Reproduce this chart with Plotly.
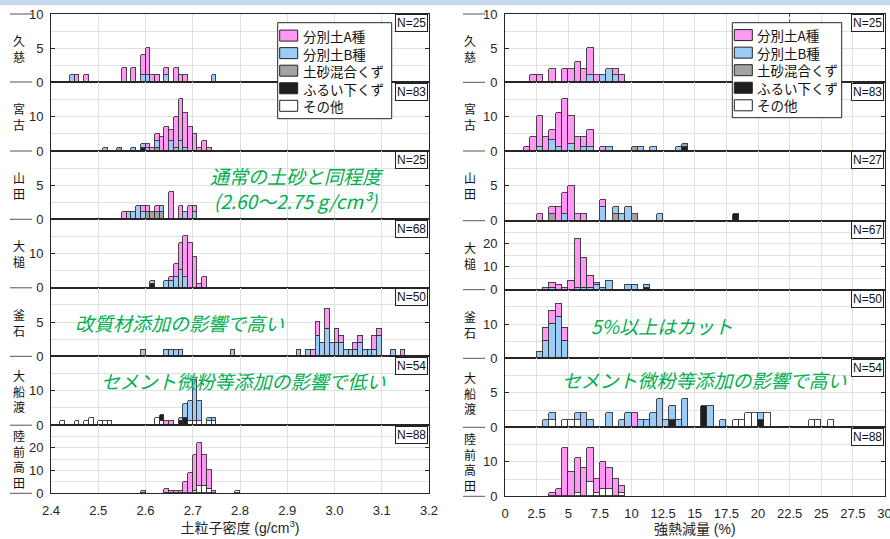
import plotly.graph_objects as go

W, H = 890, 539
FONT = "Liberation Sans, Arial, Noto Sans CJK JP, sans-serif"
JFONT = "Noto Sans CJK JP, sans-serif"
INK = "#262626"
GRID = "#e1e1e1"

# stacking order bottom -> top
KEYS = ["OT", "FS", "DK", "B", "A"]
NAMES = {"OT": "その他", "FS": "ふるい下くず", "DK": "土砂混合くず",
         "B": "分別土B種", "A": "分別土A種"}
COLORS = {"OT": "#ffffff", "FS": "#1e1e1e", "DK": "#a3a3a3",
          "B": "#9ccbf7", "A": "#ff99f5"}
LEGEND_ORDER = ["A", "B", "DK", "FS", "OT"]

SITES = ["久慈", "宮古", "山田", "大槌", "釜石", "大船渡", "陸前高田"]

# ---------------- 土粒子密度 (bin left edge, count), bin width 0.01 ----------------
DENSITY_BIN = 0.01
density_kuji = {
    "A": [(2.45, 1), (2.47, 1), (2.55, 2), (2.57, 2), (2.59, 3), (2.60, 4), (2.61, 1),
          (2.62, 1), (2.64, 1), (2.66, 2), (2.67, 1), (2.68, 1)],
    "B": [(2.44, 1), (2.59, 1), (2.60, 1), (2.64, 1), (2.74, 1)],
}
density_miyako = {
    "FS": [(2.59, 1)],
    "DK": [(2.54, 1), (2.62, 1)],
    "B": [(2.51, 1), (2.57, 1), (2.59, 1), (2.60, 1), (2.62, 2), (2.65, 3), (2.66, 1),
          (2.67, 3), (2.68, 1)],
    "A": [(2.60, 1), (2.61, 1), (2.62, 2), (2.63, 4), (2.64, 7), (2.65, 3), (2.66, 9),
          (2.67, 12), (2.68, 10), (2.69, 7), (2.70, 5), (2.71, 1), (2.72, 3), (2.73, 1)],
}
density_yamada = {
    "DK": [(2.60, 1), (2.61, 1), (2.62, 1), (2.63, 1)],
    "B": [(2.56, 1), (2.57, 1), (2.58, 2), (2.59, 1), (2.63, 1), (2.68, 1), (2.70, 1)],
    "A": [(2.55, 1), (2.59, 1), (2.60, 1), (2.62, 1), (2.65, 4), (2.67, 2), (2.69, 2),
          (2.70, 1)],
}
density_otsuchi = {
    "FS": [(2.61, 1)],
    "B": [(2.61, 1), (2.64, 2), (2.65, 2), (2.66, 3), (2.67, 5), (2.68, 3)],
    "A": [(2.65, 1), (2.66, 4), (2.67, 8), (2.68, 12), (2.69, 13), (2.70, 9), (2.71, 1),
          (2.72, 3)],
}
density_kamaishi = {
    "B": [(2.59, 1), (2.64, 1), (2.65, 1), (2.66, 1), (2.67, 1), (2.78, 1), (2.92, 1),
          (2.94, 1), (2.96, 3), (2.97, 2), (2.98, 4), (2.99, 2), (3.00, 2), (3.01, 2),
          (3.02, 1), (3.03, 1), (3.04, 1), (3.05, 2), (3.06, 1), (3.07, 1), (3.08, 1),
          (3.09, 3), (3.12, 1)],
    "A": [(2.95, 1), (2.96, 2), (2.98, 3), (3.00, 2), (3.01, 1), (3.04, 1), (3.05, 1),
          (3.08, 2), (3.09, 1), (3.14, 1)],
}
density_ofunato = {
    "OT": [(2.42, 1), (2.45, 1), (2.47, 1), (2.48, 2), (2.50, 1), (2.51, 1), (2.52, 1),
           (2.62, 2), (2.63, 1), (2.69, 1), (2.70, 1), (2.71, 1), (2.73, 1), (2.74, 1)],
    "FS": [(2.63, 2), (2.67, 1), (2.68, 2)],
    "B": [(2.67, 1), (2.68, 4), (2.69, 6), (2.70, 12), (2.71, 6), (2.73, 1), (2.74, 1)],
    "A": [(2.64, 1), (2.65, 1)],
}
density_rikuzen = {
    "OT": [(2.70, 1), (2.71, 3), (2.72, 3), (2.73, 2), (2.79, 1)],
    "A": [(2.59, 1), (2.64, 2), (2.65, 1), (2.66, 1), (2.67, 1), (2.68, 5), (2.69, 9),
          (2.70, 16), (2.71, 19), (2.72, 14), (2.73, 8), (2.74, 1)],
}
density_data = [density_kuji, density_miyako, density_yamada, density_otsuchi,
                density_kamaishi, density_ofunato, density_rikuzen]
density_n = [25, 83, 25, 68, 50, 54, 88]
density_ymax = [10, 20, 10, 20, 10, 20, 30]
density_yticks = [[0, 5, 10], [0, 10], [0, 5], [0, 10], [0, 5], [0, 10], [0, 10, 20]]
density_xticks = [2.4, 2.5, 2.6, 2.7, 2.8, 2.9, 3.0, 3.1, 3.2]
density_xlabels = ["2.4", "2.5", "2.6", "2.7", "2.8", "2.9", "3.0", "3.1", "3.2"]

# ---------------- 強熱減量 (bin left edge, count), bin width 0.5 ----------------
LOI_BIN = 0.5
loi_kuji = {
    "A": [(2.0, 1), (2.5, 1), (3.5, 2), (4.5, 2), (5.0, 2), (5.5, 3), (6.0, 2), (6.5, 4),
          (7.0, 1), (8.5, 1), (9.0, 1)],
    "B": [(6.5, 1), (7.5, 1), (8.0, 2), (8.5, 1)],
}
loi_miyako = {
    "FS": [(14.0, 1)],
    "DK": [(10.0, 1), (14.0, 1)],
    "B": [(2.5, 1), (3.5, 3), (4.0, 1), (5.0, 2), (6.0, 1), (6.5, 1), (8.0, 1), (10.5, 1),
          (11.5, 1), (13.5, 1)],
    "A": [(1.5, 1), (2.0, 4), (2.5, 9), (3.0, 4), (3.5, 3), (4.0, 10), (4.5, 15), (5.0, 8),
          (5.5, 4), (6.0, 3), (6.5, 5), (7.5, 1)],
}
loi_yamada = {
    "FS": [(18.0, 1)],
    "DK": [(3.5, 1), (8.5, 1), (10.0, 1)],
    "B": [(4.5, 1), (7.5, 2), (8.5, 1), (9.0, 1), (9.5, 2), (12.0, 1)],
    "A": [(2.5, 1), (3.5, 1), (4.0, 2), (4.5, 3), (5.0, 5), (5.5, 1), (6.0, 1), (7.5, 1)],
}
loi_otsuchi = {
    "FS": [(11.0, 1)],
    "B": [(3.5, 1), (5.5, 1), (6.0, 1), (6.5, 1), (7.0, 2), (7.5, 1), (8.0, 4), (9.5, 2),
          (10.0, 2), (11.0, 1)],
    "A": [(3.0, 1), (3.5, 2), (4.0, 2), (4.5, 1), (5.0, 4), (5.5, 21), (6.0, 13), (6.5, 5),
          (7.0, 1)],
}
loi_kamaishi = {
    "B": [(2.5, 2), (3.0, 5), (3.5, 10), (4.0, 12), (4.5, 5)],
    "A": [(3.0, 4), (3.5, 4), (4.0, 4), (4.5, 4)],
}
loi_ofunato = {
    "OT": [(3.5, 1), (4.5, 1), (5.0, 1), (5.5, 1), (18.0, 1), (18.5, 1), (19.0, 2),
           (19.5, 2), (20.5, 2), (24.0, 1), (24.5, 1), (25.5, 1)],
    "FS": [(13.0, 1), (15.5, 3), (20.0, 1)],
    "B": [(3.0, 1), (3.5, 1), (5.5, 1), (6.0, 2), (6.5, 1), (8.0, 2), (9.0, 1), (9.5, 2),
          (10.5, 1), (11.0, 1), (11.5, 2), (12.0, 4), (12.5, 1), (13.0, 2), (13.5, 1),
          (14.0, 4), (16.0, 3), (17.0, 1), (20.0, 1)],
    "A": [(10.0, 2)],
}
loi_rikuzen = {
    "OT": [(5.5, 1), (6.5, 4), (7.0, 1), (7.5, 2), (8.0, 2), (9.0, 1)],
    "A": [(3.5, 1), (4.0, 2), (4.5, 14), (5.0, 7), (5.5, 10), (6.0, 8), (6.5, 10),
          (7.0, 4), (7.5, 8), (8.0, 6), (8.5, 5), (9.0, 2)],
}
loi_data = [loi_kuji, loi_miyako, loi_yamada, loi_otsuchi, loi_kamaishi, loi_ofunato,
            loi_rikuzen]
loi_n = [25, 83, 27, 67, 50, 54, 88]
loi_ymax = [10, 20, 10, 30, 20, 10, 20]
loi_yticks = [[0, 5, 10], [0, 10], [0, 5], [0, 10, 20], [0, 10], [0, 5], [0, 10]]
loi_xticks = [0, 2.5, 5, 7.5, 10, 12.5, 15, 17.5, 20, 22.5, 25, 27.5, 30]
loi_xlabels = ["0", "2.5", "5", "7.5", "10", "12.5", "15", "17.5", "20", "22.5", "25",
               "27.5", "30"]

# ---------------- layout geometry (pixels) ----------------
COLS = [
    dict(data=density_data, n=density_n, ymax=density_ymax, yticks=density_yticks,
         bin=DENSITY_BIN, xr=[2.4, 3.2], xt=density_xticks, xl=density_xlabels,
         x0=51, x1=429, bounds=[14, 82, 151, 219.3, 287.8, 356.3, 425.2, 493.3],
         title="土粒子密度 (g/cm<sup>3</sup>)", labx=19,
         leg=dict(x0=277.7, x1=391.7, y0=22.7, y1=118.7)),
    dict(data=loi_data, n=loi_n, ymax=loi_ymax, yticks=loi_yticks,
         bin=LOI_BIN, xr=[0, 30], xt=loi_xticks, xl=loi_xlabels,
         x0=505, x1=884.5, bounds=[14, 82.3, 151, 220.7, 289.7, 358.3, 427.3, 496.3],
         title="強熱減量 (%)", labx=470,
         leg=dict(x0=732.3, x1=841.7, y0=22.7, y1=117.7)),
]

fig = go.Figure()
layout = dict(width=W, height=H, margin=dict(l=0, r=0, t=0, b=0, autoexpand=False),
              paper_bgcolor="white", plot_bgcolor="white", barmode="stack", bargap=0,
              font=dict(family=FONT, size=13, color=INK), showlegend=False)
annotations = []
shapes = []


def px(x):
    return x / W


def py(y):
    return 1 - y / H


LEG_FS = 13.5
LEG_PITCH = LEG_FS * 1.3  # plotly line spacing for multi-line text

for c, col in enumerate(COLS):
    for r in range(7):
        idx = c * 7 + r + 1
        xs = "" if idx == 1 else str(idx)
        top, bot = col["bounds"][r], col["bounds"][r + 1]
        site = col["data"][r]
        for k in KEYS:
            pts = site.get(k, [])
            if not pts:
                continue
            fig.add_trace(go.Bar(
                x=[p[0] + col["bin"] / 2 for p in pts], y=[p[1] for p in pts],
                width=col["bin"], name=NAMES[k],
                marker=dict(color=COLORS[k], line=dict(color="#333333", width=0.9)),
                xaxis="x" + xs, yaxis="y" + xs,
                hovertemplate=SITES[r] + " " + NAMES[k] + ": %{y}<extra></extra>"))
        ymax = col["ymax"][r]
        step = col["yticks"][r][1] - col["yticks"][r][0]
        xa = dict(
            domain=[px(col["x0"]), px(col["x1"])], anchor="y" + xs, range=col["xr"],
            tickmode="array", tickvals=col["xt"], ticktext=col["xl"],
            showticklabels=(r == 6), ticks="", showgrid=True, gridcolor=GRID, gridwidth=1,
            zeroline=False, showline=True, mirror=True, linecolor=INK, linewidth=1,
            tickfont=dict(size=13, color=INK), ticklabelstandoff=5, automargin=False,
            ticklabeloverflow="allow", fixedrange=True)
        if r == 6:
            xa["title"] = dict(text=col["title"], font=dict(size=14, family=FONT, color=INK),
                               standoff=4)
        layout["xaxis" + xs] = xa
        layout["yaxis" + xs] = dict(
            domain=[py(bot), py(top)], anchor="x" + xs, range=[0, ymax],
            tickmode="array", tickvals=col["yticks"][r],
            ticks="inside", ticklen=4, tickcolor=INK, showgrid=True, gridcolor=GRID,
            minor=dict(dtick=step / 2, tick0=0, showgrid=True, gridcolor=GRID, ticks=""),
            zeroline=False, showline=True, mirror="ticks", linecolor=INK, linewidth=1,
            tickfont=dict(size=13, color=INK), ticklabelstandoff=4, automargin=False,
            fixedrange=True)
        # N label box
        annotations.append(dict(
            xref="paper", yref="paper", x=px(col["x1"] - 1), y=py(top + 0.5),
            xanchor="right", yanchor="top", text="N=%d" % col["n"][r], showarrow=False,
            font=dict(size=12, color="#111111", family=FONT), bgcolor="white",
            bordercolor="#222222", borderwidth=1, borderpad=1))
        # stacked site label (one character per line)
        annotations.append(dict(
            xref="paper", yref="paper", x=px(col["labx"]), y=py((top + bot) / 2),
            xanchor="center", yanchor="middle", text="<br>".join(SITES[r]),
            showarrow=False, font=dict(size=12, color="#111111", family=JFONT)))
    # little outer marks at row boundaries
    for yb in col["bounds"]:
        x_a = 10 if c == 0 else 463
        shapes.append(dict(type="line", xref="paper", yref="paper",
                           x0=px(x_a), x1=px(x_a + 22), y0=py(yb), y1=py(yb),
                           line=dict(color="#555555", width=1)))
    # legend box (drawn): frame, swatches, one multi-line text block
    lg = col["leg"]
    shapes.append(dict(type="rect", xref="paper", yref="paper",
                       x0=px(lg["x0"]), x1=px(lg["x1"]), y0=py(lg["y1"]), y1=py(lg["y0"]),
                       fillcolor="white", line=dict(color=INK, width=1)))
    mid = (lg["y0"] + lg["y1"]) / 2
    for i, k in enumerate(LEGEND_ORDER):
        cy = mid + (i - 2) * LEG_PITCH
        shapes.append(dict(type="rect", xref="paper", yref="paper",
                           x0=px(lg["x0"] + 2), x1=px(lg["x0"] + 20),
                           y0=py(cy + 5.5), y1=py(cy - 5.5),
                           fillcolor=COLORS[k], line=dict(color="#222222", width=1)))
    annotations.append(dict(xref="paper", yref="paper", x=px(lg["x0"] + 23),
                            y=py(mid), xanchor="left", yanchor="middle", align="left",
                            text="<br>".join(NAMES[k] for k in LEGEND_ORDER),
                            showarrow=False,
                            font=dict(size=LEG_FS, color="#111111", family=JFONT)))

# green commentary text
GREEN = "#00b050"
notes = [
    ("通常の土砂と同程度<br>(2.60～2.75 g/cm³)", 297, 188),
    ("改質材添加の影響で高い", 179, 322),
    ("セメント微粉等添加の影響で低い", 243, 380),
    ("5%以上はカット", 662, 325),
    ("セメント微粉等添加の影響で高い", 704, 379),
]
for txt, x, y in notes:
    annotations.append(dict(xref="paper", yref="paper", x=px(x), y=py(y),
                            xanchor="center", yanchor="middle", text="<i>" + txt + "</i>",
                            showarrow=False,
                            font=dict(size=19, color=GREEN, family=JFONT)))

# top pale band and dotted mark
shapes.append(dict(type="rect", xref="paper", yref="paper", x0=0, x1=1, y0=py(5), y1=1,
                   fillcolor="#c6d9f1", line=dict(width=0), layer="below"))
shapes.append(dict(type="line", xref="x8", yref="paper", x0=22.5, x1=22.5,
                   y0=py(22.7), y1=py(14), line=dict(color="#444444", width=1, dash="dot")))

layout["annotations"] = annotations
layout["shapes"] = shapes
fig.update_layout(**layout)
fig.write_html("out.html", config={"displayModeBar": False},
               post_script="document.body.style.margin='0px';"
                           "document.body.style.overflow='hidden';")
